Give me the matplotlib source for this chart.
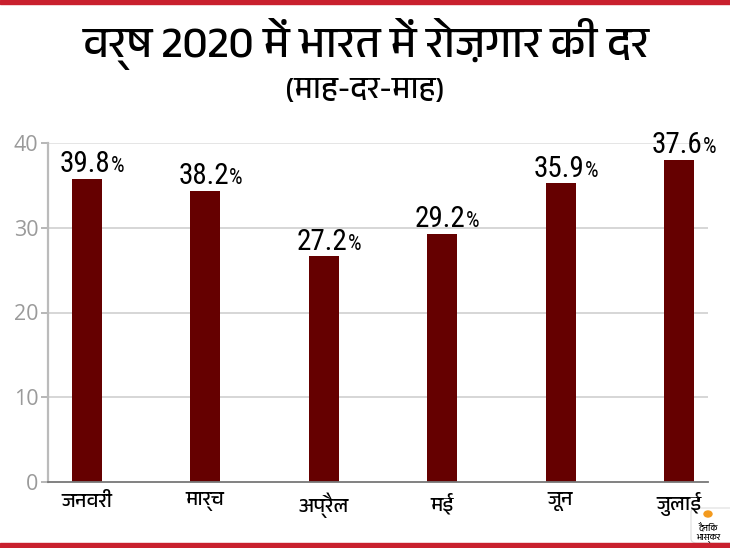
import matplotlib
matplotlib.use("Agg")
import matplotlib.pyplot as plt
from matplotlib import font_manager, ft2font
from matplotlib.patches import Rectangle, FancyBboxPatch, Circle

# ---------------- data ----------------
months = ["जनवरी", "मार्च", "अप्रैल", "मई", "जून", "जुलाई"]
bar_values = [35.7, 34.3, 26.6, 29.2, 35.2, 38.0]      # bar heights as drawn
value_labels = ["39.8", "38.2", "27.2", "29.2", "35.9", "37.6"]  # printed labels
y_ticks = [0, 10, 20, 30, 40]
title = "वर्ष 2020 में भारत में रोज़गार की दर"
subtitle = "(माह-दर-माह)"
logo_lines = ["दैनिक", "भास्कर"]

# ---------------- fonts ----------------
def find_family(ch, prefer=()):
    found = []
    for f in font_manager.fontManager.ttflist:
        try:
            cm = ft2font.FT2Font(f.fname).get_charmap()
        except Exception:
            continue
        if ord(ch) in cm:
            found.append(f.name)
    for p in prefer:
        for n in found:
            if p.lower() in n.lower():
                return n
    return found[0] if found else None

deva = find_family("क", prefer=("Devanagari", "Mukta", "Hind", "Lohit", "FreeSans"))
names = {f.name for f in font_manager.fontManager.ttflist}
narrow = None
for cand in ["Liberation Sans Narrow", "DejaVu Sans Condensed", "Roboto Condensed", "Open Sans Condensed"]:
    if cand in names:
        narrow = cand
        break
if narrow is None:
    narrow = "Liberation Sans"

deva_fam = [deva, "DejaVu Sans"] if deva else ["DejaVu Sans"]
num_fam = [narrow, "DejaVu Sans"]
tick_fam = ["Open Sans", "DejaVu Sans"]

W, H = 730, 548
fig = plt.figure(figsize=(W / 100, H / 100), dpi=100)
fig.patch.set_facecolor("white")

# axes placement (pixels)
left, right, top, bottom = 48, 708, 142.7, 482.3
ax = fig.add_axes([left / W, (H - bottom) / H, (right - left) / W, (bottom - top) / H])

x = list(range(len(months)))
ax.bar(x, bar_values, width=0.253, color="#650000", zorder=3)

ax.set_xlim(-0.328, 5.244)
ax.set_ylim(0, 40)
ax.set_yticks(y_ticks)
ax.set_yticklabels([str(v) for v in y_ticks], fontfamily=tick_fam, fontsize=15.5, color="#9a9a9a")
ax.tick_params(axis="y", length=5, width=1.2, color="#aaaaaa", pad=2)
ax.set_xticks(x)
ax.set_xticklabels(months, fontfamily=deva_fam, fontsize=14.5, color="black")
ax.tick_params(axis="x", length=0, pad=7)

for v in y_ticks[1:]:
    ax.axhline(v, color="#e0e0e0" if v == 40 else "#d0d0d0", lw=1.2, zorder=1)

for s in ["top", "right"]:
    ax.spines[s].set_visible(False)
ax.spines["left"].set_color("#bbbbbb")
ax.spines["left"].set_linewidth(1.6)
ax.spines["bottom"].set_color("#777777")
ax.spines["bottom"].set_linewidth(1.3)
ax.spines["bottom"].set_zorder(4)

for xi, v, lab in zip(x, bar_values, value_labels):
    ax.annotate(lab, (xi, v), xytext=(17, 5), textcoords="offset points",
                ha="right", va="baseline", fontsize=21, fontfamily=num_fam,
                color="black", annotation_clip=False)
    ax.annotate("%", (xi, v), xytext=(17.3, 5), textcoords="offset points",
                ha="left", va="baseline", fontsize=15.5, fontfamily=num_fam,
                color="black", annotation_clip=False)

# title and subtitle
fig.text(366 / W, 1 - 44 / H, title, ha="center", va="center", fontsize=31.5,
         fontweight="bold", fontfamily=deva_fam, color="black")
fig.text(365 / W, 1 - 91 / H, subtitle, ha="center", va="center", fontsize=22,
         fontfamily=deva_fam, color="black")

# red bands top and bottom
fig.patches.append(Rectangle((0, 1 - 4 / H), 1, 4 / H, transform=fig.transFigure,
                             color="#c9202e", zorder=5))
fig.patches.append(Rectangle((0, 0), 1, 5 / H, transform=fig.transFigure,
                             color="#c9202e", zorder=5))

# logo
fig.patches.append(FancyBboxPatch((691 / W, 5 / H), 45 / W, 35 / H,
                                  boxstyle="round,pad=0,rounding_size=0.008",
                                  transform=fig.transFigure, facecolor="white",
                                  edgecolor="#dddddd", lw=0.8, zorder=-1))
fig.patches.append(Circle((708 / W, 1 - 514 / H), 4.0 / W, transform=fig.transFigure,
                          color="#f39a1e", zorder=6))
fig.text(708 / W, 1 - 527.5 / H, logo_lines[0], ha="center", va="center", fontsize=6.3,
         fontweight="bold", fontfamily=deva_fam, zorder=6)
fig.text(708 / W, 1 - 538.5 / H, logo_lines[1], ha="center", va="center", fontsize=6.3,
         fontweight="bold", fontfamily=deva_fam, zorder=6)

fig.savefig("out.png", dpi=100, facecolor="white")
